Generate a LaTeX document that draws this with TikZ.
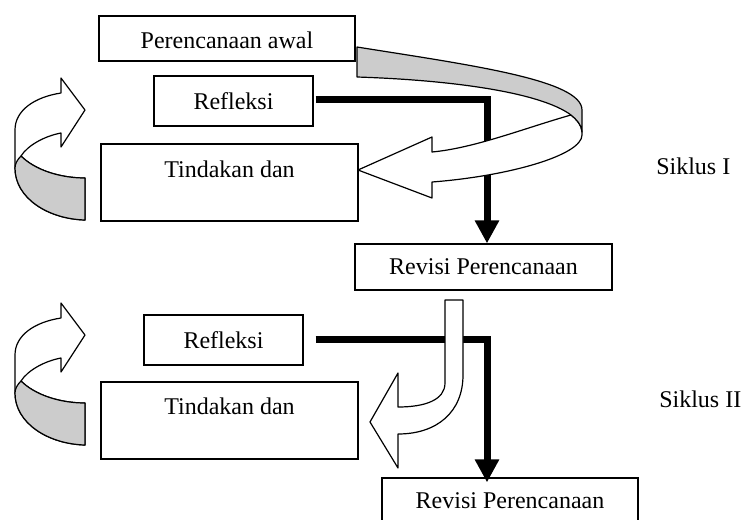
\documentclass[tikz,border=0pt]{standalone}
\usepackage{fontspec}
\setmainfont{Liberation Serif}
\usetikzlibrary{calc,arrows.meta}
\newcommand\pxu{0.75pt}
\begin{document}
\begin{tikzpicture}[x=0.75pt,y=-0.75pt,
  every node/.style={font=\fontsize{18}{22}\selectfont, inner sep=0pt},
  box/.style={draw, line width=0.9pt, fill=white},
  conn/.style={line width=5.25pt, line join=miter, -{Triangle[width=17.25pt,length=17.25pt]}},
  ribbon/.style={draw, line width=0.9pt, fill=white, line join=round},
  ribbonback/.style={draw, line width=0.9pt, fill=black!20, line join=round},
  ribbonarrow/.pic={
    \path[ribbon] (85,110) -- (61,78) -- (61,93) .. controls (35,97) and (15,110) .. (15,130)
      -- (15,168) .. controls (15,198) and (48,219) .. (85,220) -- (85,178)
      .. controls (60,178) and (35,170) .. (21,156) .. controls (28,145) and (45,136) .. (61,133)
      -- (61,147) -- cycle;
    \path[ribbonback] (21,156) .. controls (35,170) and (60,178) .. (85,178) -- (85,220)
      .. controls (48,219) and (15,198) .. (15,168) .. controls (15,164) and (17,160) .. (21,156) -- cycle;
  }]
\useasboundingbox (0,0) rectangle (744,519);

% boxes
\node[box, minimum width=256*\pxu, minimum height=45*\pxu, text height=15.5pt] (pa) at (227,38.5) {Perencanaan awal};
\node[box, minimum width=159*\pxu, minimum height=50*\pxu] (r1) at (233.5,101) {Refleksi};
\node[box, minimum width=257*\pxu, minimum height=77*\pxu, text depth=20.25pt] (t1) at (229.5,182.5) {Tindakan dan};
\node[box, minimum width=257*\pxu, minimum height=46*\pxu] (rv1) at (483.5,267) {Revisi Perencanaan};
\node[box, minimum width=159*\pxu, minimum height=50*\pxu] (r2) at (223.5,340) {Refleksi};
\node[box, minimum width=257*\pxu, minimum height=77*\pxu, text depth=21pt] (t2) at (229.5,420.5) {Tindakan dan};
\node[box, minimum width=256*\pxu, minimum height=46*\pxu] (rv2) at (510,501) {Revisi Perencanaan};
\node[anchor=west] (s1) at (656,166) {Siklus I};
\node[anchor=west] (s2) at (659,399.5) {Siklus II};

% thick connectors
\draw[conn] ($(r1.east)+(2,-2)$) -| ($(rv1.north)+(3.5,0)$);
\draw[conn] ($(r2.east)+(12,-1)$) -| ($(rv2.north)+(-23,5)$);

% big ribbon arrow (cycle I)
\path[ribbon] (571,115) .. controls (525,128) and (475,148) .. (432,152) -- (432,137) -- (358,170)
  -- (432,198) -- (432,182) .. controls (510,176) and (582,155) .. (582,135) -- (582,132)
  .. controls (582,125) and (576,119) .. (571,115) -- cycle;
\path[ribbonback] (357,47) .. controls (470,65) and (582,80) .. (582,110) -- (582,132)
  .. controls (582,125) and (576,119) .. (571,115) .. controls (540,92) and (450,80) .. (357,77) -- cycle;

% left ribbon arrows
\pic at (0,0) {ribbonarrow};
\pic at (0,225) {ribbonarrow};

% down-turning arrow (cycle II)
\path[ribbon] (445,300) -- (463,300) -- (463,375) .. controls (463,412) and (437,434) .. (398,434)
  -- (398,468) -- (370,422) -- (398,373) -- (398,407) .. controls (425,407) and (445,400) .. (445,383) -- cycle;
\end{tikzpicture}
\end{document}
